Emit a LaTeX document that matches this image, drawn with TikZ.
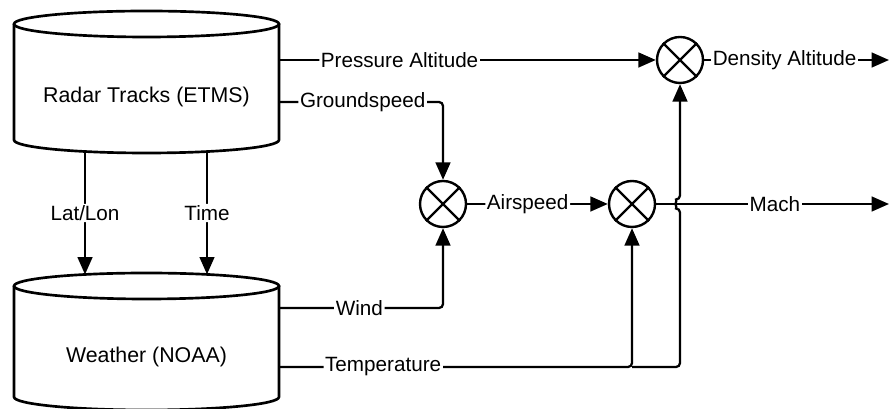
\documentclass[tikz,border=0pt]{standalone}
\usepackage{fontspec}
\setmainfont{Liberation Sans}
\usetikzlibrary{arrows.meta,calc}
\tikzset{
  dbbody/.style={
    shape = rectangle,
    minimum width = 198.75pt,
    inner sep = 0pt,
    outer sep = 0pt
  },
  dbline/.style={
    line width = 2pt
  },
  dbtext/.style={
    font = \fontsize{16}{19}\selectfont
  },
  mult/.style={
    shape = circle,
    draw,
    line width = 1.8pt,
    inner sep = 0pt,
    minimum size = 34.5pt
  },
  wire/.style={
    line width = 1.7pt,
    rounded corners = 3pt
  },
  flow/.style={
    wire,
    -{Triangle[length=13pt,width=11pt]}
  },
  lab/.style={
    fill = white,
    inner sep = 1.2pt,
    font = \fontsize{15.5}{18}\selectfont
  }
}
\begin{document}
\begin{tikzpicture}[x=0.75pt,y=0.75pt]
    \useasboundingbox (0,0) rectangle (891,409);
    \clip (0,0) rectangle (891,409);
    % data stores
    \node[dbbody,minimum height=87pt] (radar) at (146.5,327) {};
    \node[dbbody,minimum height=83.25pt] (weather) at (146.5,67.5) {};
    \foreach \db in {radar,weather}{
        \draw[dbline] (\db.north west) -- (\db.south west)
            arc[start angle=180,end angle=360,x radius=132.5,y radius=13]
            -- (\db.north east);
        \draw[dbline] (\db.north) ellipse [x radius=132.5,y radius=13];
    }
    \node[dbtext] (radartext) at ($(radar.center)+(0,-15)$) {Radar Tracks (ETMS)};
    \node[dbtext] (weathertext) at ($(weather.center)+(0,-15.5)$) {Weather (NOAA)};
    % multipliers
    \node[mult] (mul1) at (443,205) {};
    \node[mult] (mul2) at (632,205) {};
    \node[mult] (mul3) at (680,349) {};
    \foreach \m in {mul1,mul2,mul3}
        \draw[line width=1.8pt] (\m.north east) -- (\m.south west)
            (\m.north west) -- (\m.south east);
    \coordinate (gsport) at ($(radar.east)+(0,-20)$);
    \coordinate (windport) at ($(weather.east)+(0,33.5)$);
    \coordinate (tport) at ($(weather.east)+(0,-25.5)$);
    \coordinate (machout) at (889,205);
    \coordinate (densout) at (889,349);
    % connectors
    \draw[flow] ($(radar.south)+(-61.5,-11.5)$) -- node[lab]{Lat/Lon} ($(weather.north)+(-61.5,11.5)$);
    \draw[flow] ($(radar.south)+(60.5,-11.6)$) -- node[lab]{Time} ($(weather.north)+(60.5,11.6)$);
    \draw[flow] (radar.east |- mul3) -- node[lab,pos=0.32]{Pressure Altitude} (mul3);
    \draw[flow] (gsport) -| node[lab,pos=0.255]{Groundspeed} (mul1);
    \draw[flow] (windport) -| node[lab,pos=0.245]{Wind} (mul1);
    \draw[flow] (tport) -| node[lab,pos=0.1475]{Temperature} (mul2);
    \draw[flow] (tport -| mul2) -- (tport -| mul3)
        -- ($(mul3 |- mul2)+(0,-4.5)$) arc[start angle=270,end angle=90,radius=4.5]
        -- (mul3);
    \draw[flow] (mul1) -- node[lab,pos=0.43]{Airspeed} (mul2);
    \draw[flow] (mul2) -- node[lab,pos=0.51]{Mach} (machout);
    \draw[flow] (mul3) -- node[lab,pos=0.435]{Density Altitude} (densout);
\end{tikzpicture}
\end{document}
